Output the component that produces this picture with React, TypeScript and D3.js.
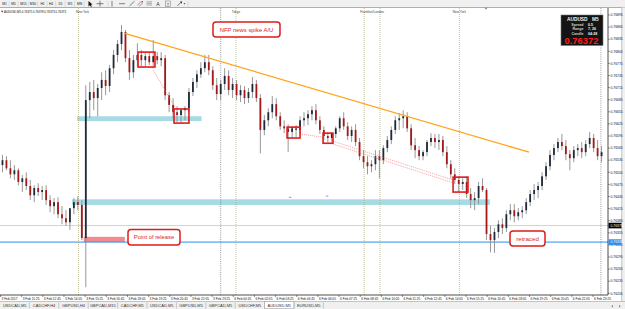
import React from "react";
import * as d3 from "d3";

// ---- DATA (prices in points: price × 100000) ----
// each candle: [open, high, low, close], one candle per 3 M5 bars
const feb3Candles: number[][] = [
  [76523, 76548, 76505, 76535], [76535, 76545, 76510, 76515], [76515, 76535, 76490, 76500],
  [76500, 76523, 76486, 76510], [76510, 76515, 76473, 76481], [76481, 76498, 76456, 76490],
  [76490, 76505, 76461, 76471], [76471, 76486, 76436, 76448], [76448, 76473, 76431, 76466],
  [76466, 76478, 76446, 76456], [76456, 76471, 76436, 76461], [76461, 76473, 76424, 76436],
  [76436, 76448, 76406, 76421], [76421, 76441, 76401, 76431], [76431, 76443, 76391, 76401],
  [76401, 76421, 76376, 76391], [76391, 76411, 76372, 76381], [76381, 76406, 76362, 76416],
  [76416, 76441, 76401, 76431], [76431, 76446, 76411, 76424], [76424, 76436, 76337, 76342],
  [76342, 76721, 76220, 76684], [76684, 76729, 76639, 76704], [76704, 76734, 76659, 76689],
  [76689, 76724, 76644, 76714], [76714, 76753, 76684, 76734], [76734, 76758, 76696, 76719],
  [76719, 76771, 76704, 76763], [76763, 76808, 76748, 76796], [76796, 76833, 76778, 76823],
  [76823, 76870, 76808, 76853], [76853, 76858, 76778, 76788], [76788, 76808, 76734, 76753],
  [76753, 76796, 76739, 76783], [76783, 76825, 76768, 76796], [76796, 76808, 76768, 76783],
  [76783, 76803, 76768, 76793], [76793, 76803, 76771, 76778], [76778, 76833, 76768, 76793],
  [76793, 76803, 76773, 76783], [76783, 76803, 76768, 76788], [76788, 76796, 76684, 76696],
  [76696, 76704, 76654, 76672], [76672, 76689, 76639, 76654], [76654, 76669, 76629, 76647],
  [76647, 76664, 76627, 76659], [76659, 76669, 76634, 76664], [76664, 76714, 76654, 76704],
  [76704, 76739, 76694, 76729], [76729, 76758, 76714, 76748], [76748, 76778, 76739, 76763],
  [76763, 76796, 76753, 76778], [76778, 76796, 76746, 76758], [76758, 76768, 76709, 76721],
  [76721, 76739, 76684, 76699],
];
const feb6Candles: number[][] = [
  [76699, 76734, 76684, 76724], [76724, 76763, 76709, 76744], [76744, 76758, 76696, 76709],
  [76709, 76739, 76689, 76724], [76724, 76734, 76684, 76696], [76696, 76721, 76679, 76709],
  [76709, 76719, 76674, 76689], [76689, 76714, 76677, 76704], [76704, 76741, 76689, 76724],
  [76724, 76734, 76679, 76689], [76689, 76699, 76552, 76610], [76610, 76647, 76597, 76634],
  [76634, 76664, 76619, 76654], [76654, 76694, 76639, 76674], [76674, 76689, 76634, 76644],
  [76644, 76654, 76610, 76619], [76619, 76634, 76602, 76614], [76614, 76624, 76555, 76605],
  [76605, 76619, 76590, 76614], [76614, 76622, 76592, 76610], [76610, 76644, 76600, 76634],
  [76634, 76654, 76619, 76639], [76639, 76659, 76622, 76649], [76649, 76669, 76634, 76659],
  [76659, 76674, 76624, 76634], [76634, 76644, 76600, 76610], [76610, 76619, 76585, 76595],
  [76595, 76605, 76580, 76590], [76590, 76605, 76580, 76600], [76600, 76619, 76590, 76614],
  [76614, 76644, 76605, 76639], [76639, 76654, 76610, 76619], [76619, 76629, 76585, 76595],
  [76595, 76619, 76580, 76610], [76610, 76624, 76570, 76580], [76580, 76590, 76535, 76545],
  [76545, 76560, 76515, 76530], [76530, 76545, 76500, 76520], [76520, 76535, 76505, 76525],
  [76525, 76560, 76510, 76545], [76545, 76560, 76490, 76535], [76535, 76572, 76525, 76565],
  [76565, 76595, 76555, 76585], [76585, 76619, 76575, 76610], [76610, 76644, 76600, 76634],
  [76634, 76652, 76610, 76639], [76639, 76659, 76614, 76644], [76644, 76654, 76605, 76614],
  [76614, 76624, 76560, 76572], [76572, 76590, 76540, 76560], [76560, 76570, 76535, 76545],
  [76545, 76560, 76535, 76555], [76555, 76585, 76545, 76580], [76580, 76602, 76570, 76590],
  [76590, 76600, 76565, 76580], [76580, 76600, 76560, 76585], [76585, 76595, 76545, 76555],
  [76555, 76570, 76515, 76525], [76525, 76535, 76490, 76500], [76500, 76515, 76476, 76486],
  [76486, 76495, 76456, 76476], [76476, 76490, 76461, 76481], [76481, 76495, 76441, 76451],
  [76451, 76466, 76416, 76436], [76436, 76456, 76411, 76441], [76441, 76481, 76426, 76471],
  [76471, 76490, 76456, 76461], [76461, 76466, 76337, 76352], [76352, 76372, 76307, 76337],
  [76337, 76367, 76305, 76357], [76357, 76386, 76342, 76376], [76376, 76391, 76352, 76367],
  [76367, 76411, 76357, 76401], [76401, 76426, 76386, 76411], [76411, 76426, 76381, 76396],
  [76396, 76416, 76386, 76406], [76406, 76421, 76391, 76411], [76411, 76441, 76401, 76431],
  [76431, 76461, 76421, 76451], [76451, 76476, 76436, 76461], [76461, 76481, 76441, 76471],
  [76471, 76505, 76461, 76495], [76495, 76530, 76486, 76520], [76520, 76560, 76510, 76548],
  [76548, 76575, 76535, 76565], [76565, 76590, 76555, 76580], [76580, 76600, 76560, 76570],
  [76570, 76585, 76535, 76550], [76550, 76560, 76510, 76540], [76540, 76570, 76530, 76560],
  [76560, 76575, 76545, 76565], [76565, 76580, 76540, 76555], [76555, 76585, 76545, 76575],
  [76575, 76605, 76565, 76590], [76590, 76600, 76555, 76565], [76565, 76585, 76535, 76545],
  [76545, 76570, 76530, 76555],
];

const priceTicks = [
  "0.76895", "0.76865", "0.76835", "0.76805", "0.76775", "0.76745", "0.76715", "0.76685",
  "0.76655", "0.76625", "0.76595", "0.76565", "0.76535", "0.76505", "0.76475", "0.76445",
  "0.76415", "0.76385", "0.76355", "0.76325", "0.76295", "0.76265", "0.76235", "0.76205",
];
const timeLabels = [
  "3 Feb 2017", "3 Feb 11:25", "3 Feb 12:45", "3 Feb 14:05", "3 Feb 15:25", "3 Feb 16:45",
  "3 Feb 18:05", "3 Feb 19:25", "3 Feb 20:45", "3 Feb 22:05", "3 Feb 23:25", "6 Feb 00:45",
  "6 Feb 02:05", "6 Feb 03:25", "6 Feb 04:45", "6 Feb 06:05", "6 Feb 07:25", "6 Feb 08:45",
  "6 Feb 10:05", "6 Feb 11:25", "6 Feb 12:45", "6 Feb 14:05", "6 Feb 15:25", "6 Feb 16:45",
  "6 Feb 18:05", "6 Feb 19:25", "6 Feb 20:45", "6 Feb 22:05", "6 Feb 23:25",
];
const periods = ["M1", "M5", "M15", "M30", "H1", "H4", "D1", "W1", "MN"];
const tabs = [
  "USDCAD,M5", "CADCHF,H4", "GBPUSD,H4", "GBPCAD,M15", "CADCHF,M5", "USDCAD,M5",
  "GBPUSD,M5", "GBPCAD,M5", "USDCHF,M5", "AUDUSD,M5", "EURUSD,M5",
];
const activeTab = "AUDUSD,M5";

// vertical lines, in M5 bar index
const sessionLines = [59, 178, 275, 287, 347];
const sessionNames = ["New York", "Tokyo", "Frankfurt/London", "New York"];
const sessionNameAt = [62, 178, 281, 347];
const daySeparators = [166.5, 454];

// levels / objects (bar index, price)
const blueLevel = 0.76332;
const bidLevel = 0.76373;
const zoneFrom = [58, 54];
const zoneTo = [152, 370];
const zoneTop = [0.76644, 0.76438];
const zoneBottom = [0.76632, 0.76424];
const releaseZone = [63, 94, 0.76345, 0.76332];
const trendFrom = [93.4, 0.7685];
const trendTo = [399.6, 0.76555];
const boxFrom = [104, 131.2, 216.7, 243.9, 342.2];
const boxTo = [116.8, 142.5, 226.5, 251.4, 353.5];
const boxTop = [0.76803, 0.76662, 0.76617, 0.76602, 0.76493];
const boxBottom = [0.76766, 0.76627, 0.7659, 0.76577, 0.76456];
const dotFrom = [[114.6, 0.76763], [226.5, 0.766], [251.4, 0.76582], [251.4, 0.76575]];
const dotTo = [[132.7, 0.76662], [243.9, 0.76592], [342.2, 0.76486], [342.2, 0.76479]];
const arrowMarks = [[219, 0.76443], [247, 0.76446]];

const FONT = "'Liberation Sans', Arial, sans-serif";

export default function App() {
  const x = d3.scaleLinear().domain([0, 460]).range([0.5, 0.5 + 460 * 1.3225]);
  const y = d3.scaleLinear().domain([0.76205, 0.76895]).range([293.3, 15]);
  const P = (v: number) => y(v / 1e5);
  const candles = [...feb3Candles, ...feb6Candles];
  const chartRight = 608;
  const chartTop = 8;
  const chartBottom = 295;
  const periodX = [4.5, 13.5, 23.5, 33, 42.5, 51, 60.5, 70, 79.5];
  const tabW = 29.4;

  return (
    <div style={{ position: "absolute", left: 0, top: 0 }}>
      <svg width={625} height={309} style={{ display: "block" }} fontFamily={FONT}>
        <defs>
          <clipPath id="plot">
            <rect x={0} y={chartTop} width={chartRight} height={chartBottom - chartTop} />
          </clipPath>
        </defs>
        <rect width={625} height={309} fill="#ffffff" />

        {/* toolbar */}
        <rect x={0} y={0} width={625} height={7.5} fill="#f0f0f0" />
        <line x1={0} x2={625} y1={7.5} y2={7.5} stroke="#9a9a9a" strokeWidth={0.8} />
        {periods.map((p, i) => (
          <g key={p}>
            <text x={periodX[i]} y={5.2} fontSize={3.3} textAnchor="middle" fill="#222">{p}</text>
            <line x1={periodX[i] + 4.6} x2={periodX[i] + 4.6} y1={1} y2={6.5} stroke="#c4c4c4" strokeWidth={0.5} />
          </g>
        ))}
        <polygon points="88.5,1 88.5,6.5 89.9,5.2 91,7 91.8,6.6 90.8,4.8 92.5,4.6" fill="#111" />
        <line x1={96.5} x2={103.5} y1={3.7} y2={3.7} stroke="#333" strokeWidth={0.6} />
        <line x1={100} x2={100} y1={0.8} y2={6.5} stroke="#333" strokeWidth={0.6} />
        <line x1={108} x2={108} y1={1} y2={6.5} stroke="#c4c4c4" strokeWidth={0.5} />
        <line x1={112} x2={112} y1={1} y2={6.5} stroke="#333" strokeWidth={0.6} />
        <line x1={119} x2={125} y1={3.7} y2={3.7} stroke="#333" strokeWidth={0.6} />
        <line x1={129.5} x2={134.5} y1={6} y2={1.2} stroke="#333" strokeWidth={0.6} />
        <line x1={137.5} x2={141} y1={5.2} y2={1.5} stroke="#555" strokeWidth={0.6} />
        <line x1={139.2} x2={142.7} y1={6.5} y2={2.8} stroke="#555" strokeWidth={0.6} />
        <rect x={141.5} y={1} width={1.4} height={1.4} fill="#d03030" />
        {[1.8, 3.4, 5].map((v) => (
          <line key={v} x1={146.5} x2={152} y1={v} y2={v} stroke="#555" strokeWidth={0.45} />
        ))}
        <text x={158} y={6} fontSize={5} textAnchor="middle" fill="#333">A</text>
        <rect x={165.5} y={1} width={5} height={5.2} fill="none" stroke="#666" strokeWidth={0.45} />
        <text x={168} y={5.5} fontSize={4} textAnchor="middle" fill="#333">T</text>
        <line x1={177.5} x2={181.5} y1={5.8} y2={1.8} stroke="#333" strokeWidth={0.7} />
        <polygon points="179.8,1.5 182,1.5 182,3.7" fill="#333" />
        <polygon points="183.5,3.2 185.5,3.2 184.5,4.5" fill="#333" />
        <line x1={188} x2={188} y1={1} y2={6.5} stroke="#c4c4c4" strokeWidth={0.5} />

        {/* right gray strip */}
        <rect x={621.7} y={7.5} width={3.3} height={294} fill="#f0f0f0" />
        <line x1={621.7} x2={621.7} y1={7.5} y2={301.5} stroke="#a0a0a0" strokeWidth={0.6} />

        <g clipPath="url(#plot)">
          {/* zones */}
          {zoneFrom.map((f, i) => (
            <rect key={i} x={x(f)} y={y(zoneTop[i])} width={x(zoneTo[i]) - x(f)}
              height={y(zoneBottom[i]) - y(zoneTop[i])} fill="#a6dbe3" />
          ))}
          <rect x={x(releaseZone[0])} y={y(releaseZone[2])} width={x(releaseZone[1]) - x(releaseZone[0])}
            height={y(releaseZone[3]) - y(releaseZone[2])} fill="#f28b8b" />

          {/* horizontal levels */}
          <line x1={0} x2={chartRight} y1={y(bidLevel)} y2={y(bidLevel)} stroke="#c8c8c8" strokeWidth={0.8} />
          <line x1={0} x2={chartRight} y1={y(blueLevel)} y2={y(blueLevel)} stroke="#2a8ef0" strokeWidth={1} />

          {/* vertical session lines */}
          {sessionLines.map((s) => (
            <line key={s} x1={x(s)} x2={x(s)} y1={chartTop} y2={chartBottom}
              stroke="#a9a97a" strokeWidth={0.7} strokeDasharray="1 1" />
          ))}
          {daySeparators.map((s) => (
            <line key={s} x1={x(s)} x2={x(s)} y1={chartTop} y2={chartBottom}
              stroke="#555" strokeWidth={0.6} strokeDasharray="1 1.2" />
          ))}

          {/* candles */}
          {candles.map(([o, h, l, c], k) => {
            const cx = x(3 * k + 1.5);
            const up = c >= o;
            const yt = P(Math.max(o, c));
            const yb = P(Math.min(o, c));
            return (
              <g key={k}>
                <line x1={cx} x2={cx} y1={P(h)} y2={P(l)} stroke="#8c8c8c" strokeWidth={0.9} />
                <rect x={cx - 0.9} y={yt} width={1.8} height={Math.max(0.8, yb - yt)}
                  fill={up ? "#1e2a3a" : "#a51818"} />
              </g>
            );
          })}

          {/* trendline */}
          <line x1={x(trendFrom[0])} y1={y(trendFrom[1])} x2={x(trendTo[0])} y2={y(trendTo[1])}
            stroke="#ffa31a" strokeWidth={1.3} />

          {/* dotted connectors */}
          {dotFrom.map((d, i) => (
            <line key={i} x1={x(d[0])} y1={y(d[1])} x2={x(dotTo[i][0])} y2={y(dotTo[i][1])}
              stroke="#f07878" strokeWidth={0.7} strokeDasharray="1 1" />
          ))}

          {/* marked boxes */}
          {boxFrom.map((f, i) => (
            <rect key={i} x={x(f)} y={y(boxTop[i])} width={x(boxTo[i]) - x(f)}
              height={y(boxBottom[i]) - y(boxTop[i])} fill="none" stroke="#e01b1b" strokeWidth={1.6} />
          ))}

          {arrowMarks.map((m, i) => (
            <line key={i} x1={x(m[0]) - 1.2} x2={x(m[0]) + 1.2} y1={y(m[1])} y2={y(m[1])}
              stroke="#8a7ae0" strokeWidth={0.9} />
          ))}
        </g>

        {/* session labels */}
        {sessionNames.map((n, i) => (
          <text key={i} x={x(sessionNameAt[i])} y={13} fontSize={3.1} textAnchor="middle" fill="#444">{n}</text>
        ))}
        <polygon points="484.5,7.8 487.5,7.8 486,9.8" fill="#888" />

        {/* header text */}
        <polygon points="1,10.8 3.4,10.8 2.2,12.6" fill="#333" />
        <text x={4} y={13} fontSize={2.9} fill="#111">AUDUSD,M5 0.76375 0.76378 0.76373 0.76373</text>

        {/* callouts */}
        <rect x={213} y={22} width={67} height={15} rx={3} fill="#fff" stroke="#e01b1b" strokeWidth={1.5} />
        <text x={246.5} y={31.6} fontSize={5.9} textAnchor="middle" fill="#e01b1b">NFP news spike A/U</text>
        <rect x={128} y={229.5} width={52} height={15.5} rx={3} fill="#fff" stroke="#e01b1b" strokeWidth={1.5} />
        <text x={154} y={239.2} fontSize={5.8} textAnchor="middle" fill="#e01b1b">Point of release</text>
        <rect x={510} y={231} width={35} height={15} rx={3} fill="#fff" stroke="#e01b1b" strokeWidth={1.5} />
        <text x={527.5} y={240.6} fontSize={6.2} textAnchor="middle" fill="#e01b1b">retraced</text>

        {/* info box */}
        <rect x={561} y={15} width={42} height={30.5} fill="#141414" stroke="#777" strokeWidth={0.6} />
        <text x={567} y={20.6} fontSize={4.8} fontWeight="bold" fill="#f2f2f2">AUDUSD</text>
        <text x={592} y={20.6} fontSize={4.8} fontWeight="bold" fill="#f2f2f2">M5</text>
        {[["Spread", "0.5", 26], ["Range", "7, 26", 30.3], ["Candle", "04:28", 34.6]].map((r) => (
          <g key={r[0] as string}>
            <text x={583.5} y={r[2] as number} fontSize={3.6} fontWeight="bold" textAnchor="end" fill="#cfcfcf">{r[0]}</text>
            <text x={588} y={r[2] as number} fontSize={3.6} fontWeight="bold" fill="#f0f0f0">{r[1]}</text>
          </g>
        ))}
        <text x={581.5} y={44.2} fontSize={9.4} fontWeight="bold" textAnchor="middle" fill="#ff1a1a">0.76372</text>

        {/* chart frame */}
        <line x1={chartRight} x2={chartRight} y1={chartTop} y2={chartBottom} stroke="#222" strokeWidth={0.8} />
        <line x1={0} x2={chartRight} y1={chartBottom} y2={chartBottom} stroke="#222" strokeWidth={0.8} />

        {/* price axis */}
        {priceTicks.map((t) => {
          const yy = y(parseFloat(t));
          return (
            <g key={t}>
              <line x1={chartRight} x2={chartRight + 1.8} y1={yy} y2={yy} stroke="#222" strokeWidth={0.5} />
              <text x={610.5} y={yy + 1.2} fontSize={3.4} fill="#111">{t}</text>
            </g>
          );
        })}
        <rect x={608.5} y={y(bidLevel) - 2.8} width={13} height={5.6} fill="#000" />
        <text x={610.5} y={y(bidLevel) + 1.2} fontSize={3.4} fill="#fff">0.76373</text>
        <rect x={608.5} y={y(blueLevel) - 2.8} width={13} height={5.6} fill="#2a8ef0" />
        <text x={610.5} y={y(blueLevel) + 1.2} fontSize={3.4} fill="#fff">0.76332</text>

        {/* time axis */}
        {timeLabels.map((t, i) => {
          const xx = x(16 * i);
          return (
            <g key={t}>
              <line x1={xx} x2={xx} y1={chartBottom} y2={chartBottom + 2} stroke="#222" strokeWidth={0.5} />
              <text x={xx + 1} y={299.8} fontSize={3.2} fill="#111">{t}</text>
            </g>
          );
        })}

        {/* tabs */}
        <rect x={0} y={301.5} width={625} height={7.5} fill="#f0f0f0" />
        <line x1={0} x2={625} y1={301.5} y2={301.5} stroke="#a0a0a0" strokeWidth={0.6} />
        {tabs.map((t, i) => {
          const tx = i * tabW;
          const active = t === activeTab;
          return (
            <g key={i}>
              {active && (
                <rect x={tx} y={301.5} width={tabW} height={7} fill="#ffffff" stroke="#909090" strokeWidth={0.5} />
              )}
              <text x={tx + tabW / 2} y={307.3} fontSize={4} textAnchor="middle" fill="#333">{t}</text>
              <line x1={tx + tabW} x2={tx + tabW} y1={302.5} y2={308.5} stroke="#9a9a9a" strokeWidth={0.5} />
            </g>
          );
        })}
        <polygon points="613,305 613,307.6 611.3,306.3" fill="#777" />
        <polygon points="619,305 619,307.6 620.7,306.3" fill="#777" />
      </svg>
    </div>
  );
}
